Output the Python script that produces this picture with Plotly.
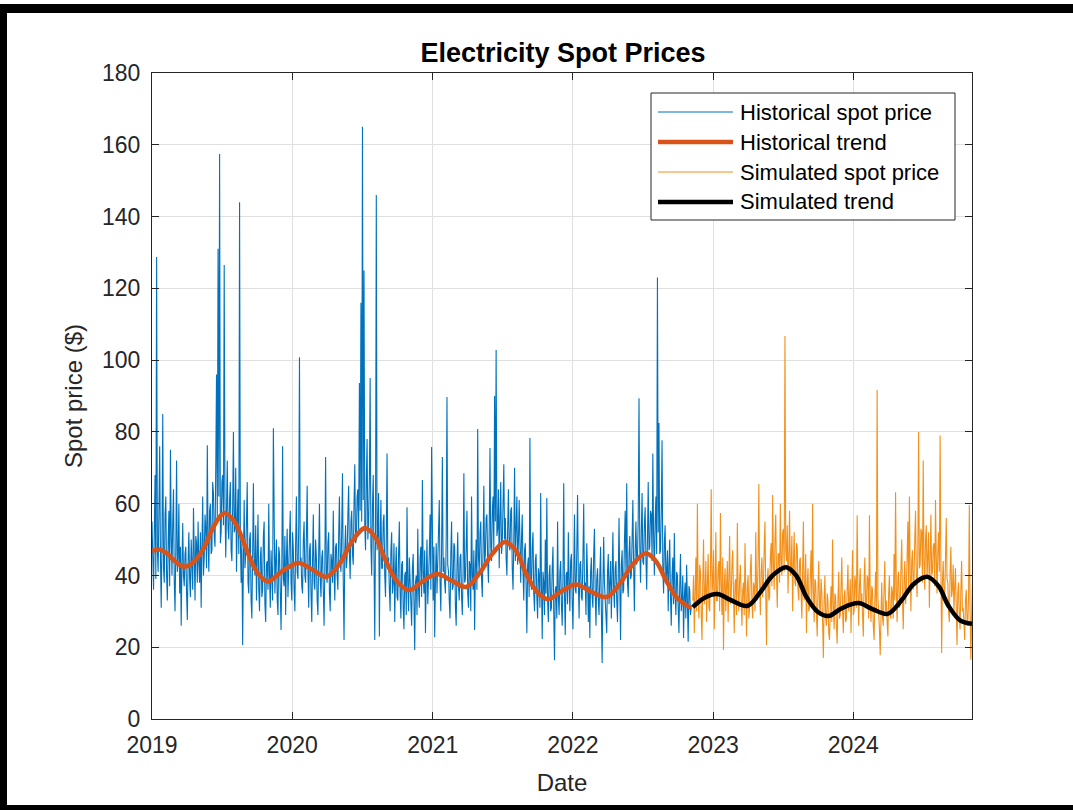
import pandas as pd
import plotly.graph_objects as go

# ---------------- data ----------------
hist_start = "2019-01-01"
sim_start = "2022-11-09"
step = "2D"

hist_price = [
    55, 44, 36, 52, 68, 39, 128.7, 47, 41, 58, 76, 45, 31, 50, 85, 42, 38, 57, 62, 40,
    33, 49, 58, 37, 75, 52, 40, 55, 64, 38, 30, 47, 72, 41, 45, 60, 35, 48, 26, 43,
    54.6, 40, 37, 46, 48, 35, 27.6, 44, 52, 39, 34, 50, 44, 36, 58.8, 42, 33, 51, 49, 38,
    55, 43, 38, 52, 31, 48, 62, 40, 45, 57, 53, 42, 76.3, 50, 41, 58, 60, 46, 47, 66,
    63, 51, 48, 70, 96, 55, 131, 62, 157.4, 49, 52, 66, 68, 54, 126.5, 60, 45, 58, 72, 53,
    50, 61, 66, 47, 44, 59, 80, 52, 53, 70, 41, 55, 64, 46, 144, 51, 38, 49, 20.6, 44,
    61, 42, 46, 55, 66, 38, 35, 50, 52, 33, 28, 46, 65.7, 43, 40, 54, 33, 45, 57, 36,
    30, 45, 48, 34, 36, 51, 55, 32, 27, 43, 44, 36, 60, 40, 31, 47, 42, 33, 81, 45,
    35, 44, 50, 33, 29, 48, 46, 36, 24.8, 42, 76, 39, 37, 51, 29, 45, 53, 34, 41, 49,
    58, 38, 33, 52, 47, 36, 30, 49, 62, 41, 39, 54, 100.8, 43, 45, 37, 35, 50, 55, 40,
    38, 51, 65, 42, 31, 47, 49, 35, 27, 44, 57, 38, 36, 50, 45, 33, 29, 46, 60, 39,
    34, 45, 47, 36, 26, 42, 73, 40, 38, 49, 52, 35, 30, 46, 44, 38, 58, 41, 33, 48,
    49, 40, 36, 51, 62, 44, 41, 53, 68.5, 38, 22, 47, 54, 42, 45, 57, 65, 46, 39, 55,
    58, 46, 43, 60, 71, 49, 50, 62, 64, 52, 93.6, 58, 116, 55, 165, 61, 125, 54, 47, 66,
    78, 50, 55, 67, 95, 48, 40, 59, 68, 44, 22, 53, 146, 47, 52, 63, 23, 49, 61, 42,
    42, 55, 57, 40, 34, 50, 74, 43, 45, 36, 30, 47, 52, 35, 38, 49, 27, 41, 48, 34,
    33, 46, 55, 35, 28, 43, 44, 31, 25, 40, 41, 29, 59, 38, 30, 45, 37, 28, 26, 42,
    46, 33, 19.2, 38, 40, 29, 53, 36, 31, 45, 48, 34, 66.6, 41, 35, 47, 24, 39, 50, 32,
    37, 46, 57, 36, 75.8, 44, 33, 48, 22.8, 39, 49, 35, 42, 52, 61, 38, 30, 47, 73, 41,
    45, 38, 35, 50, 89.7, 43, 41, 33, 28, 46, 55, 36, 37, 49, 48, 31, 26, 42, 52, 37,
    33, 45, 46, 34, 29, 41, 68.5, 38, 39, 48, 58, 35, 31, 44, 43, 30, 62, 40, 36, 47,
    24.8, 42, 50, 36, 80.8, 45, 41, 52, 55, 39, 34, 48, 65, 43, 46, 56, 57, 44, 38, 53,
    75.5, 48, 44, 58, 62, 47, 90, 55, 102.8, 51, 53, 64, 42, 56, 66, 46, 49, 60, 71, 50,
    56, 45, 40, 53, 64, 48, 47, 58, 59, 42, 36, 50, 70, 44, 51, 62, 43, 49, 61, 41,
    38, 50, 57, 41, 33, 47, 49, 37, 24, 43, 45, 34, 78.3, 40, 36, 48, 52, 35, 30, 44,
    46, 34, 28, 42, 40, 31, 63, 38, 22.3, 41, 38, 29, 50, 35, 61.6, 33, 27, 40, 43, 30,
    31, 42, 48, 30, 16.4, 36, 37, 28, 55, 34, 29, 41, 44, 32, 26, 39, 65.7, 35, 23.4, 40,
    41, 32, 52, 38, 30, 44, 46, 33, 25, 40, 57, 36, 35, 47, 62.4, 39, 28, 43, 44, 34,
    33, 45, 60, 36, 38, 29, 49, 40, 27, 37, 22.6, 41, 45, 34, 31, 46, 53, 35, 26, 39,
    42, 33, 29, 40, 48, 30, 15.6, 36, 50.7, 38, 33, 27, 24, 41, 46, 32, 37, 44, 28, 39,
    52, 36, 31, 42, 44, 33, 27, 40, 56, 37, 22, 43, 47, 35, 36, 49, 58, 41, 65.7, 38,
    34, 46, 51, 39, 40, 50, 61, 42, 30, 47, 55, 43, 45, 56, 89.4, 48, 38, 52, 63, 44,
    43, 54, 59, 45, 36, 50, 66, 47, 48, 58, 57, 44, 74, 51, 40, 55, 62, 46, 123, 52,
    82.5, 46, 47, 58, 77.7, 42, 35, 49, 54, 38, 41, 47, 30, 43, 50, 34, 26, 40, 45, 32,
    51.8, 35, 29, 41, 40, 31, 24, 37, 46, 30, 33, 40, 22.6, 34, 38, 28, 43, 33, 21.5, 37,
    36, 29, 31,
]

sim_price = [
    33, 40, 24, 36, 45, 30, 60, 34, 28, 43, 41, 29, 22, 38, 50, 32, 35, 44, 27, 37,
    46, 31, 30, 41, 64, 35, 38, 47, 25, 36, 52, 33, 33, 42, 44, 30, 57.4, 38, 29, 45,
    19.2, 37, 42, 30, 36, 44, 27, 39, 51, 32, 34, 43, 47, 35, 24, 38, 39, 29, 54.6, 36,
    30, 39, 43, 33, 26, 36, 38, 29, 49, 35, 23, 37, 40, 28, 31, 42, 46, 32, 28, 38,
    37, 30, 52, 36, 33, 44, 65.5, 38, 29, 41, 45, 34, 38, 48, 55, 35, 20.6, 39, 42, 33,
    34, 45, 49, 37, 62.4, 43, 36, 50, 57, 40, 31, 46, 46, 38, 60, 44, 40, 52, 53, 41,
    106.7, 47, 44, 54, 35, 45, 58, 40, 41, 51, 30, 43, 52, 38, 37, 49, 48, 36, 33, 44,
    45, 35, 28, 41, 55, 33, 36, 46, 24, 37, 42, 30, 31, 40, 47, 32, 60, 36, 27, 39,
    38, 29, 23, 36, 44, 31, 30, 39, 35, 27, 17, 33, 40, 28, 26, 35, 33, 24, 22, 31,
    37, 27, 50, 32, 25, 35, 34, 26, 21, 33, 41, 28, 29, 37, 45, 30, 24, 34, 36, 27,
    28, 36, 43, 30, 33, 39, 24, 35, 47, 29, 30, 40, 38, 31, 56.8, 36, 26, 37, 42, 32,
    35, 29, 23, 38, 45, 32, 31, 40, 39, 28, 56.8, 34, 27, 37, 36, 26, 22, 33, 41, 30,
    91.7, 34, 30, 25, 17.8, 31, 38, 28, 26, 36, 44, 30, 33, 27, 23, 35, 40, 29, 28, 37,
    35, 28, 46, 33, 63.2, 36, 27, 39, 41, 31, 32, 42, 50, 34, 25, 38, 44, 32, 36, 45,
    55, 37, 62, 41, 30, 44, 47, 36, 39, 50, 58, 40, 34, 46, 80, 42, 43, 53, 52, 38,
    72, 44, 36, 50, 54, 39, 45, 52, 31, 43, 57, 40, 41, 48, 49, 37, 61, 45, 35, 47,
    52, 41, 79, 43, 18.4, 38, 44, 35, 33, 45, 56, 39, 38, 30, 27, 41, 48, 34, 36, 43,
    30, 37, 42, 31, 20.6, 35, 38, 29, 25, 36, 44, 30, 31, 27, 22, 33, 36, 28, 26, 34,
    59.6, 30, 16.5, 28, 38,
]

hist_trend_dates = [
    "2019-01-01", "2019-01-20", "2019-02-10", "2019-03-01", "2019-03-25",
    "2019-04-20", "2019-05-15", "2019-06-10", "2019-07-08", "2019-08-05",
    "2019-09-01", "2019-10-01", "2019-10-30", "2019-12-01", "2020-01-16",
    "2020-02-20", "2020-03-30", "2020-05-05", "2020-06-05", "2020-07-09",
    "2020-08-05", "2020-09-01", "2020-10-01", "2020-11-01", "2020-12-01",
    "2021-01-12", "2021-02-20", "2021-03-29", "2021-05-05", "2021-06-05",
    "2021-07-08", "2021-08-05", "2021-09-01", "2021-10-01", "2021-10-28",
    "2021-12-01", "2022-01-09", "2022-02-15", "2022-03-30", "2022-05-05",
    "2022-06-05", "2022-07-10", "2022-08-05", "2022-09-01", "2022-10-01",
    "2022-11-05",
]
hist_trend = [
    46.8, 47.2, 46.0, 44.0, 42.4,
    43.8, 47.5, 53.5, 57.4, 54.8,
    48.0, 41.0, 38.3, 40.8, 43.5,
    41.8, 39.6, 43.5, 49.5, 53.2,
    50.5, 44.0, 38.2, 35.9, 38.0,
    40.4, 38.5, 36.8, 41.0, 46.0,
    49.3, 47.0, 40.5, 35.2, 33.4,
    35.5, 37.5, 35.6, 34.0, 38.0,
    43.0, 46.2, 44.0, 38.5, 33.5,
    30.9,
]

sim_trend_dates = [
    "2022-11-09", "2022-12-10", "2023-01-12", "2023-02-15", "2023-03-31",
    "2023-05-05", "2023-06-05", "2023-07-10", "2023-08-05", "2023-09-01",
    "2023-10-01", "2023-10-28", "2023-12-01", "2024-01-14", "2024-02-20",
    "2024-03-30", "2024-05-05", "2024-06-05", "2024-07-12", "2024-08-10",
    "2024-09-05", "2024-10-05", "2024-11-05",
]
sim_trend = [
    31.2, 33.8, 34.8, 33.2, 31.5,
    35.5, 40.0, 42.3, 40.0, 34.0,
    29.8, 28.7, 30.8, 32.3, 30.6,
    29.3, 33.0, 37.5, 39.6, 37.0,
    31.5, 27.5, 26.5,
]

series_names = ["Historical spot price", "Historical trend",
                "Simulated spot price", "Simulated trend"]
y_ticks = list(range(0, 181, 20))
x_range = ["2019-01-01", "2024-11-05"]

# ---------------- styling ----------------
W, H = 1073, 810
L, R, T, B = 152, 972, 73, 719          # plot area in pixels
C_BLUE, C_RED, C_ORANGE, C_BLACK = "#0072BD", "#D95319", "#F39019", "#000000"
FONT = "Liberation Sans, Arial, Helvetica, sans-serif"
TXT = "#262626"


def px(x):
    return (x - L) / (R - L)


def py(y):
    return (B - y) / (B - T)


hist_dates = pd.date_range(hist_start, periods=len(hist_price), freq=step)
sim_dates = pd.date_range(sim_start, periods=len(sim_price), freq=step)

fig = go.Figure()
fig.add_trace(go.Scatter(x=hist_dates, y=hist_price, mode="lines",
                         line=dict(color=C_BLUE, width=1.1), name=series_names[0]))
fig.add_trace(go.Scatter(x=pd.to_datetime(hist_trend_dates), y=hist_trend, mode="lines",
                         line=dict(color=C_RED, width=4.5, shape="spline"),
                         name=series_names[1]))
fig.add_trace(go.Scatter(x=sim_dates, y=sim_price, mode="lines",
                         line=dict(color=C_ORANGE, width=1.1), name=series_names[2]))
fig.add_trace(go.Scatter(x=pd.to_datetime(sim_trend_dates), y=sim_trend, mode="lines",
                         line=dict(color=C_BLACK, width=4.5, shape="spline"),
                         name=series_names[3]))

axis_common = dict(
    showline=True, linecolor=TXT, linewidth=1, mirror="ticks",
    ticks="inside", ticklen=7, tickcolor=TXT, tickwidth=1,
    showgrid=True, gridcolor="#e0e0e0", gridwidth=1, zeroline=False,
    tickfont=dict(family=FONT, size=23, color=TXT),
)

fig.update_layout(
    width=W, height=H,
    margin=dict(l=L, r=W - R, t=T, b=H - B, autoexpand=False),
    paper_bgcolor="white", plot_bgcolor="white",
    showlegend=False,
    title=dict(text="<b>Electricity Spot Prices</b>", x=px(563), xanchor="center",
               xref="paper", y=1 - 53 / H, yanchor="middle",
               font=dict(family=FONT, size=27, color="#000000")),
    xaxis=dict(range=x_range, dtick="M12", tick0="2019-01-01", tickformat="%Y",
               title=dict(text="Date", font=dict(family=FONT, size=24, color=TXT),
                          standoff=17),
               ticklabelstandoff=5, **axis_common),
    yaxis=dict(range=[0, 180], tickvals=y_ticks,
               title=dict(text="Spot price ($)", font=dict(family=FONT, size=24, color=TXT),
                          standoff=12),
               ticklabelstandoff=6, **axis_common),
)

shapes = []
# black picture frame
for x0, y0, x1, y1 in [(0, 4, 1073, 13), (0, 4, 7, 810), (0, 805, 1073, 810)]:
    shapes.append(dict(type="rect", xref="paper", yref="paper",
                       x0=px(x0), x1=px(x1), y0=py(y1), y1=py(y0),
                       fillcolor="black", line=dict(width=0), layer="above"))

# custom legend (long MATLAB style samples)
lx0, ly0, lx1, ly1 = 651, 93, 955, 220
shapes.append(dict(type="rect", xref="paper", yref="paper",
                   x0=px(lx0), x1=px(lx1), y0=py(ly1), y1=py(ly0),
                   fillcolor="white", line=dict(color=TXT, width=1), layer="above"))
rows_y = [112, 142, 172, 202]
styles = [(C_BLUE, 1.2), (C_RED, 4.5), (C_ORANGE, 1.2), (C_BLACK, 4.5)]
annotations = []
for yy, (col, w), name in zip(rows_y, styles, series_names):
    shapes.append(dict(type="line", xref="paper", yref="paper",
                       x0=px(658), x1=px(733), y0=py(yy), y1=py(yy),
                       line=dict(color=col, width=w), layer="above"))
    annotations.append(dict(text=name, xref="paper", yref="paper",
                            x=px(738), y=py(yy), xanchor="left", yanchor="middle",
                            showarrow=False,
                            font=dict(family=FONT, size=22, color="#000000")))

fig.update_layout(shapes=shapes, annotations=annotations)
fig.write_html("out.html", config={"displayModeBar": False},
               post_script="document.body.style.margin='0';")
